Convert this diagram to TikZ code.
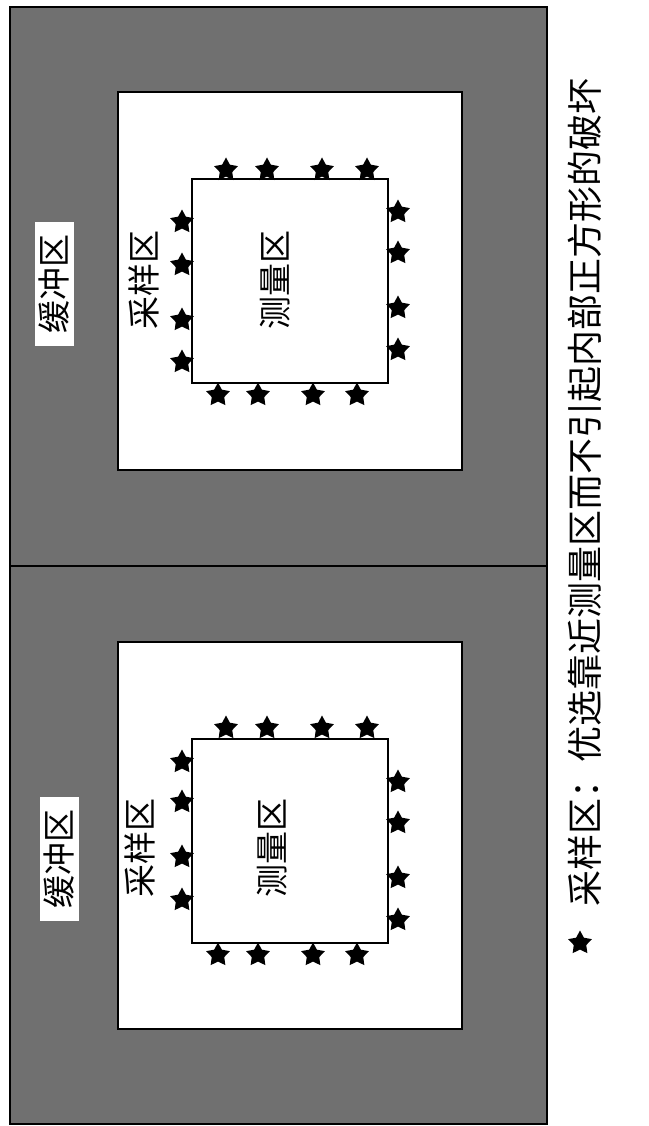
\documentclass[tikz,border=0pt]{standalone}
\usepackage{fontspec}
\newfontfamily\cjk{Noto Sans CJK SC}
\usetikzlibrary{shapes.geometric,positioning}
\definecolor{bufgrey}{gray}{0.44}
\tikzset{
	zonebox/.style={draw=black, line width=1.5pt},
	bufzone/.style={zonebox, fill=bufgrey},
	samplezone/.style={zonebox, fill=white},
	measbox/.style={draw=black, line width=2pt, fill=white, minimum width=196pt, minimum height=204pt, inner sep=0pt},
	zonelabel/.style={font=\cjk\fontsize{33}{33}\selectfont, rotate=90, inner sep=0pt},
	samplestar/.style={star, star points=5, star point ratio=1.9, fill=black, minimum size=25pt, inner sep=0pt}
}

\begin{document}
\begin{tikzpicture}[x=1pt, y=-1pt]
	\useasboundingbox (0,0) rectangle (648,1126);
	% upper panel
	\draw[bufzone] (10,7) rectangle (547,566);
	\draw[samplezone] (118,92) rectangle (462,470);
	\node[measbox] (meas1) at (290,281) {};
	\node[zonelabel] (measlbl1) at (275,280) {测量区};
	\node[zonelabel] (samplbl1) at (144,280) {采样区};
	\node[zonelabel, fill=white, minimum width=124pt, minimum height=39pt] (buflbl1) at (54.5,284) {缓冲区};
	\foreach \x in {226,267,322,367} \node[samplestar] at (\x,170) {};
	\foreach \x in {218,258,313,357} \node[samplestar] at (\x,395) {};
	\foreach \y in {222,265,320,362} \node[samplestar] at (182,\y) {};
	\foreach \y in {212,253,308,350} \node[samplestar] at (398,\y) {};
	% lower panel
	\draw[bufzone] (10,566) rectangle (547,1124);
	\draw[samplezone] (118,642) rectangle (462,1029);
	\node[measbox] (meas2) at (290,841) {};
	\node[zonelabel] (measlbl2) at (272,848) {测量区};
	\node[zonelabel] (samplbl2) at (140,848) {采样区};
	\node[zonelabel, fill=white, minimum width=124pt, minimum height=39pt] (buflbl2) at (59,859) {缓冲区};
	\foreach \x in {226,267,322,367} \node[samplestar] at (\x,728) {};
	\foreach \x in {218,258,313,357} \node[samplestar] at (\x,955) {};
	\foreach \y in {762,802,857,900} \node[samplestar] at (182,\y) {};
	\foreach \y in {782,823,878,920} \node[samplestar] at (398,\y) {};
	% legend
	\node[samplestar] (legstar) at (580,943) {};
	\node[zonelabel, font=\cjk\fontsize{36}{36}\selectfont, anchor=west] (legtext) at (585,907) {采样区：优选靠近测量区而不引起内部正方形的破坏};
\end{tikzpicture}
\end{document}
